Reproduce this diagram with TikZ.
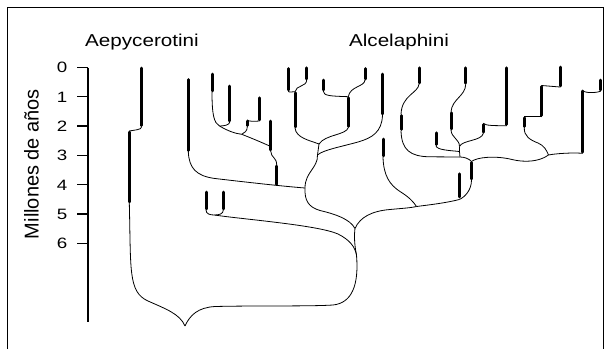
\documentclass[tikz,border=0pt]{standalone}
\usepackage{fontspec}
\setmainfont{Liberation Sans}
\usepackage{graphicx}

\begin{document}
\begin{tikzpicture}[x=1pt,y=-1pt,
  fossil/.style={line width=3pt,line cap=round,shorten <=1.2pt,shorten >=1.2pt},
  lineage/.style={line width=0.8pt,line join=round},
  axisline/.style={line width=1.3pt},
  every node/.style={inner sep=0pt,outer sep=0pt}]
  \useasboundingbox (0,0) rectangle (605,349);
  \draw[line width=0.6pt] (7,349) -- (7,7) -- (603.5,7) -- (603.5,349);
  \coordinate (axtop) at (88,67.5);
  \coordinate (axbot) at (88,322);
  \draw[axisline] (axtop) -- (axbot);
  \foreach \m in {0,...,6} {
    \coordinate (tk\m) at (88,67.5+29.3*\m);
    \coordinate (tl\m) at (77,67.5+29.3*\m);
    \draw[axisline] (tl\m) -- (tk\m);
    \node[anchor=base,font=\fontsize{15}{18}\selectfont] (lab\m) at (62,72.9+29.3*\m) {\scalebox{1.25}[1]{\m}};
  }
  \node[anchor=base,rotate=90,font=\fontsize{20}{24}\selectfont] (ylab) at (38.5,164) {Millones de años};
  \node[anchor=base,font=\fontsize{17.2}{20}\selectfont] (aep) at (142,46.7) {\scalebox{1.2}[1]{Aepycerotini}};
  \node[anchor=base,font=\fontsize{17.2}{20}\selectfont] (alc) at (399,46.7) {\scalebox{1.2}[1]{Alcelaphini}};
  \foreach \n/\x/\t/\b in {ae1/141.7/67/126.7, ae2/129.3/131/203,
      k188/188.3/78.5/151.7, k212/212/73/92, k230/229.7/85/122,
      k259/259/96.7/121, k247/247.3/120/126.7, k271/270.7/120/151,
      k277/276.7/165/185.5, k288/288.3/67.3/91, k307/306.7/66.7/80,
      k295/295/91.7/128, k323/323.3/79/91, k365/365/67.3/80,
      k348/348.3/96.7/127.5, k382/382.5/73/115, k383/383/138/157,
      k419/419/66.7/84, k401/401/114.5/130.5, k466/465.7/66.7/84.3,
      k451/451/111.7/130, k436/436/131.7/145.7, k483/483.3/123.3/133.3,
      k507/506.7/66.7/125.7, k459/459.3/172.7/198, k472/471.5/161.5/180,
      k560/560/66/87, k542/541.7/85.5/116.7, k524/524.3/116.7/127.7,
      k583/582.7/90/153.3, k601/600.7/79/91,
      u1/206/191/210, u2/223.3/191/210} {
    \coordinate (\n t) at (\x,\t);
    \coordinate (\n b) at (\x,\b);
    \draw[fossil] (\n t) -- (\n b);
  }
  \coordinate (root) at (185,326);
  \coordinate (ng) at (356.5,255);
  \coordinate (nf) at (355,228.5);
  \coordinate (na) at (305,188);
  \coordinate (nb) at (317.5,155);
  \coordinate (nc) at (319,144);
  \coordinate (nd) at (416.5,206.5);
  \coordinate (ne) at (459.3,199.5);
  \coordinate (ni) at (460,157);
  \coordinate (nl) at (459.5,146.5);
  \coordinate (nm) at (459.5,151.5);
  \coordinate (nk) at (548.5,155);
  \coordinate (nu) at (214.5,215);
  \coordinate (n1) at (219.5,126);
  \coordinate (n2) at (241.7,134.3);
  \coordinate (j271) at (270.7,146.5);
  \begin{scope}[lineage]
    \draw (ae1b) .. controls (141.7,130) and (134,130) .. (ae2t);
    \draw (ae2b) .. controls (131,270) and (128,292) .. (148,301) .. controls (166,309) and (180,314) .. (root);
    \draw (root) .. controls (190,315) and (198,307.5) .. (215,306.5) .. controls (255,305.5) and (310,306.5) .. (333,305) .. controls (352,303) and (359,285) .. (ng);
    \draw (u1b) .. controls (206,214) and (210,215) .. (nu);
    \draw (u2b) .. controls (223.3,214) and (219,215) .. (nu);
    \draw (nu) .. controls (240,219) and (318,225) .. (338,234) .. controls (350,240) and (355,247) .. (ng);
    \draw (ng) .. controls (354.5,245) and (354,236) .. (nf);
    \draw (na) .. controls (304.5,200) and (308,207) .. (320,210.5) .. controls (335,214) and (350,219) .. (nf);
    \draw (nf) .. controls (360,217) and (372,211) .. (390,209.5) .. controls (400,208.5) and (410,208) .. (nd);
    \draw (k383b) .. controls (383.5,176) and (390,185) .. (400,191.5) .. controls (408,196.5) and (413,201) .. (nd);
    \draw (nd) .. controls (428,205) and (446,203) .. (ne);
    \draw (ne) .. controls (465,197) and (471.5,190) .. (k472b);
    \draw (k472t) .. controls (469,158.5) and (464,157) .. (ni);
    \draw (k472t) .. controls (477,157) and (496,155.5) .. (512,159.5) .. controls (524,162.5) and (539,162) .. (nk);
    \draw (k524b) .. controls (523.8,136) and (530,140) .. (538,143) .. controls (544,145.5) and (546.5,150) .. (nk);
    \draw (nk) .. controls (556,153.5) and (572,152.5) .. (k583b);
    \draw (k524t) -- (k542b); \draw (k542t) -- (k560b);
    \draw (k583t) .. controls (583,93.5) and (598,93) .. (k601b);
    \draw (k483t) .. controls (485,125.7) and (495,125.7) .. (k507b);
    \draw (k466b) .. controls (465.5,96) and (452,99) .. (k451t);
    \draw (k451b) .. controls (451.5,138) and (459.5,139) .. (nl);
    \draw (k483b) .. controls (482,141) and (462,140) .. (nl);
    \draw (nl) -- (nm); \draw (nm) -- (ni);
    \draw (k436b) .. controls (436.5,150) and (450,150.5) .. (nm);
    \draw (k419b) .. controls (418.5,93) and (401.5,95) .. (k401t);
    \draw (k401b) .. controls (401.5,150) and (410,156.5) .. (430,156.8) -- (ni);
    \draw (k307b) .. controls (306.5,87) and (296,85) .. (k295t);
    \draw (k288b) .. controls (288.5,93) and (293,91.5) .. (k295t);
    \draw (k295b) .. controls (296,138) and (310,140.5) .. (nc);
    \draw (k348b) .. controls (346.5,135) and (325,134.5) .. (nc);
    \draw (k323b) .. controls (323.5,96) and (330,96) .. (k348t);
    \draw (k365b) .. controls (364.5,87) and (350,86) .. (k348t);
    \draw (nc) -- (nb);
    \draw (k382b) .. controls (382,132) and (372,138) .. (358,142) .. controls (340,147) and (323,150) .. (nb);
    \draw (nb) .. controls (318,168) and (305,172) .. (na);
    \draw (k188b) .. controls (189,168) and (196,176) .. (215,178.5) .. controls (245,182) and (280,186) .. (na);
    \draw (k271b) .. controls (271,158) and (276.7,157) .. (k277t);
    \draw (n2) .. controls (250,137.5) and (262,142.5) .. (j271);
    \draw (n1) .. controls (228,131) and (235,133.5) .. (n2);
    \draw (k212b) .. controls (212,115) and (214,123) .. (n1);
    \draw (k230b) .. controls (229.7,125) and (224,126) .. (n1);
    \draw (k259b) .. controls (255,121.5) and (248,121.5) .. (k247t);
    \draw (k247b) .. controls (247.3,131) and (244.5,133) .. (n2);
  \end{scope}
\end{tikzpicture}
\end{document}
